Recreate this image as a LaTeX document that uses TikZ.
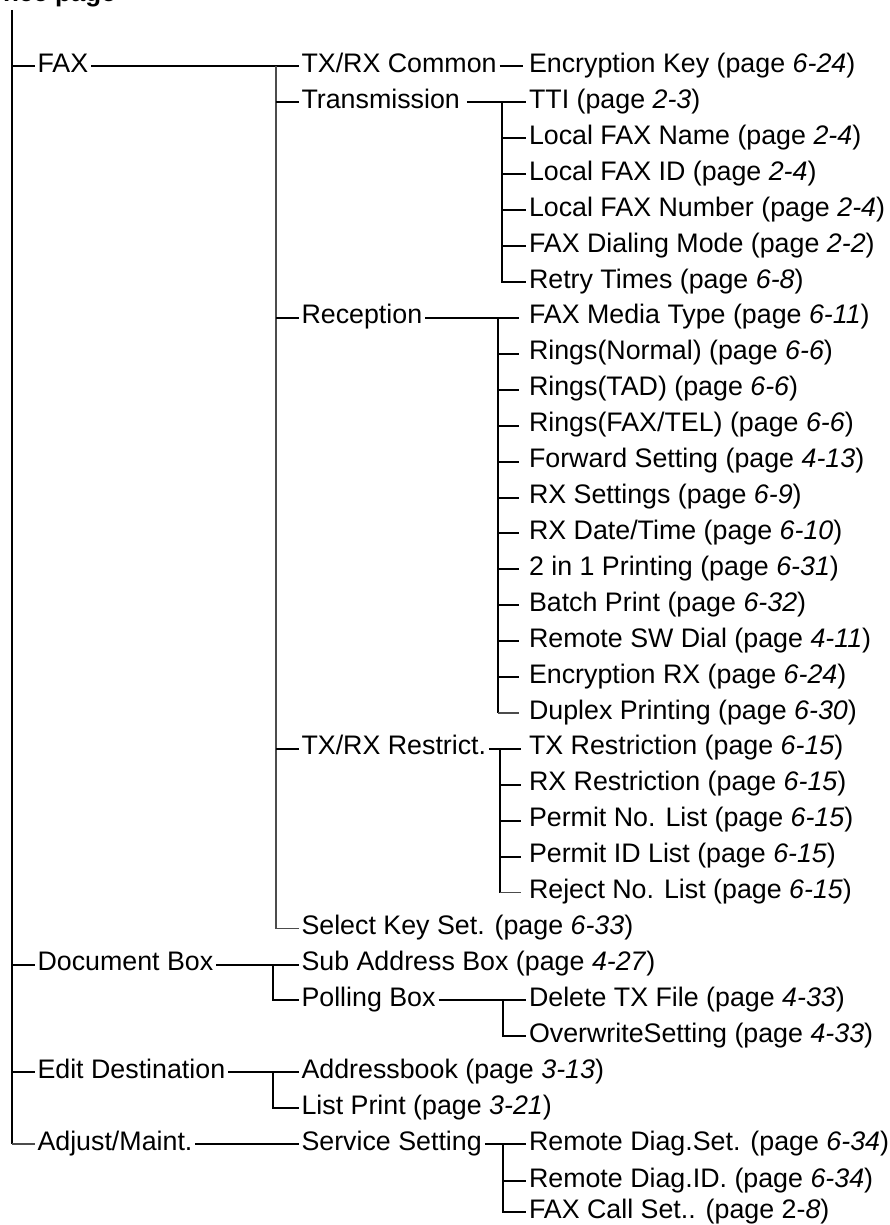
\documentclass[tikz,border=0pt]{standalone}
\usepackage{fontspec}
\setmainfont{Liberation Sans}
\newcommand\ry[1]{72.5+35.92*#1}
\tikzset{
  item/.style={anchor=base west, inner sep=0pt, outer xsep=3pt, text height=18pt, text depth=6pt, font=\fontsize{26.8}{30}\selectfont},
  hdr/.style={anchor=base east, inner sep=0pt, font=\fontsize{26}{30}\selectfont\bfseries},
  ln/.style={line width=2pt, black},
  trunk/.style={line width=2.4pt, black},
  thinln/.style={line width=1.4pt, black!70},
}
\begin{document}
\begin{tikzpicture}[x=1pt,y=-1pt]
\useasboundingbox (0,0) rectangle (890,1225);
\node[hdr] (hdr) at (116,1.5) {Reference page};
% level 1
\node[item] (fax) at (34.5,\ry{0}) {FAX};
\node[item] (docbox) at (34.5,\ry{25}) {Document Box};
\node[item] (editdest) at (34.5,\ry{28}) {Edit Destination};
\node[item] (adjust) at (34.5,\ry{30}) {Adjust/Maint.};
% level 2
\node[item] (common) at (298.5,\ry{0}) {TX/RX Common};
\node[item] (trans) at (298.5,\ry{1}) {Transmission};
\node[item] (recep) at (298.5,\ry{7}) {Reception};
\node[item] (restr) at (298.5,\ry{19}) {TX/RX Restrict.};
\node[item] (selkey) at (298.5,\ry{24}) {Select Key Set. (page \textit{6-33})};
\node[item] (subaddr) at (298.5,\ry{25}) {Sub Address Box (page \textit{4-27})};
\node[item] (polling) at (298.5,\ry{26}) {Polling Box};
\node[item] (addrbook) at (298.5,\ry{28}) {Addressbook (page \textit{3-13})};
\node[item] (listprint) at (298.5,\ry{29}) {List Print (page \textit{3-21})};
\node[item] (service) at (298.5,\ry{30}) {Service Setting};
% level 3
\node[item] (enckey) at (526,\ry{0}) {Encryption Key (page \textit{6-24})};
\node[item] (tti) at (526,\ry{1}) {TTI (page \textit{2-3})};
\node[item] (lname) at (526,\ry{2}) {Local FAX Name (page \textit{2-4})};
\node[item] (lid) at (526,\ry{3}) {Local FAX ID (page \textit{2-4})};
\node[item] (lnum) at (526,\ry{4}) {Local FAX Number (page \textit{2-4})};
\node[item] (dial) at (526,\ry{5}) {FAX Dialing Mode (page \textit{2-2})};
\node[item] (retry) at (526,\ry{6}) {Retry Times (page \textit{6-8})};
\node[item] (media) at (526,\ry{7}) {FAX Media Type (page \textit{6-11})};
\node[item] (rnorm) at (526,\ry{8}) {Rings(Normal) (page \textit{6-6})};
\node[item] (rtad) at (526,\ry{9}) {Rings(TAD) (page \textit{6-6})};
\node[item] (rtel) at (526,\ry{10}) {Rings(FAX/TEL) (page \textit{6-6})};
\node[item] (fwd) at (526,\ry{11}) {Forward Setting (page \textit{4-13})};
\node[item] (rxset) at (526,\ry{12}) {RX Settings (page \textit{6-9})};
\node[item] (rxdate) at (526,\ry{13}) {RX Date/Time (page \textit{6-10})};
\node[item] (twoin) at (526,\ry{14}) {2 in 1 Printing (page \textit{6-31})};
\node[item] (batch) at (526,\ry{15}) {Batch Print (page \textit{6-32})};
\node[item] (swdial) at (526,\ry{16}) {Remote SW Dial (page \textit{4-11})};
\node[item] (encrx) at (526,\ry{17}) {Encryption RX (page \textit{6-24})};
\node[item] (duplex) at (526,\ry{18}) {Duplex Printing (page \textit{6-30})};
\node[item] (txr) at (526,\ry{19}) {TX Restriction (page \textit{6-15})};
\node[item] (rxr) at (526,\ry{20}) {RX Restriction (page \textit{6-15})};
\node[item] (pno) at (526,\ry{21}) {Permit No. List (page \textit{6-15})};
\node[item] (pid) at (526,\ry{22}) {Permit ID List (page \textit{6-15})};
\node[item] (rej) at (526,\ry{23}) {Reject No. List (page \textit{6-15})};
\node[item] (deltx) at (526,\ry{26}) {Delete TX File (page \textit{4-33})};
\node[item] (overw) at (526,\ry{27}) {OverwriteSetting (page \textit{4-33})};
\node[item] (dset) at (526,\ry{30}) {Remote Diag.Set. (page \textit{6-34})};
\node[item] (did) at (526,{\ry{31}+1}) {Remote Diag.ID. (page \textit{6-34})};
\node[item] (fcall) at (526,1218) {FAX Call Set.. (page 2-\textit{8})};
% bus coordinates
\coordinate (root) at (12,10);
\coordinate (b1) at (276,0);
\coordinate (b2) at (502,0);
\coordinate (b3) at (498,0);
\coordinate (b4) at (500,0);
\coordinate (b5) at (273,0);
\coordinate (b6) at (503,0);
\coordinate (b7) at (273,0);
\coordinate (b8) at (503,0);
% trunk
\draw[trunk] (root) -- (root |- adjust.west);
\draw[thinln] (root |- adjust.west) -- (adjust.west);
\foreach \n in {fax,docbox,editdest}{\draw[ln] (root |- \n.west) -- (\n.west);}
% FAX
\draw[ln] (fax.east) -- (common.west);
\draw[thinln] (b1 |- fax.east) -- (b1 |- selkey.west) -- (selkey.west);
\foreach \n in {trans,recep,restr}{\draw[ln] (b1 |- \n.west) -- (\n.west);}
\draw[ln, shorten >=3pt] (common.east) -- (enckey.west);
% Transmission
\draw[ln, shorten <=4pt] (trans.east) -- (tti.west);
\draw[ln] (b2 |- tti.west) |- (retry.west);
\foreach \n in {lname,lid,lnum,dial}{\draw[ln] (b2 |- \n.west) -- (\n.west);}
% Reception
\draw[ln, shorten >=7pt] (recep.east) -- (media.west);
\draw[ln] (b3 |- media.west) -- (b3 |- duplex.west);
\draw[thinln, shorten >=7pt] (b3 |- duplex.west) -- (duplex.west);
\foreach \n in {rnorm,rtad,rtel,fwd,rxset,rxdate,twoin,batch,swdial,encrx}{\draw[ln, shorten >=7pt] (b3 |- \n.west) -- (\n.west);}
% Restrict
\draw[ln, shorten >=5pt] (restr.east) -- (txr.west);
\draw[ln] (b4 |- txr.west) -- (b4 |- rej.west);
\draw[thinln, shorten >=5pt] (b4 |- rej.west) -- (rej.west);
\foreach \n in {rxr,pno,pid}{\draw[ln, shorten >=5pt] (b4 |- \n.west) -- (\n.west);}
% Document Box
\draw[ln] (docbox.east) -- (subaddr.west);
\draw[ln] (b5 |- subaddr.west) |- (polling.west);
\draw[ln] (polling.east) -- (deltx.west);
\draw[ln] (b6 |- deltx.west) |- (overw.west);
% Edit Destination
\draw[ln] (editdest.east) -- (addrbook.west);
\draw[ln] (b7 |- addrbook.west) |- (listprint.west);
% Adjust
\draw[ln] (adjust.east) -- (service.west);
\draw[ln] (service.east) -- (dset.west);
\draw[ln] (b8 |- dset.west) |- (fcall.west);
\draw[ln] (b8 |- did.west) -- (did.west);
\end{tikzpicture}
\end{document}
